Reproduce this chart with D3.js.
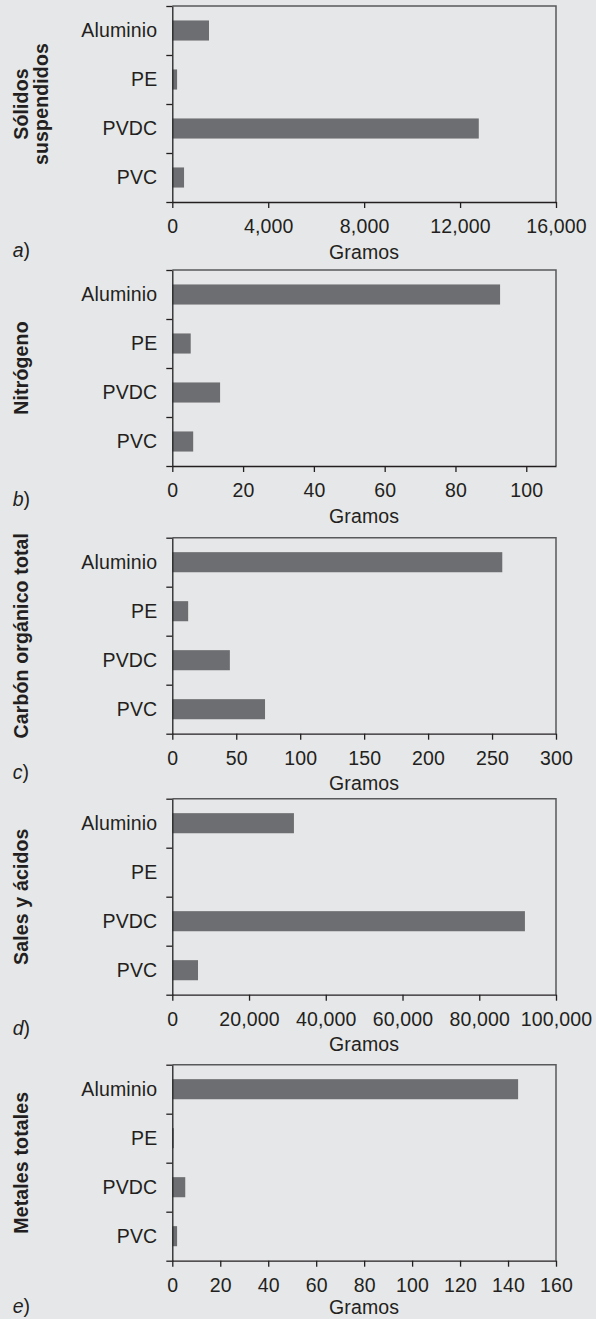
<!DOCTYPE html>
<html>
<head>
<meta charset="utf-8">
<script src="https://cdn.jsdelivr.net/npm/d3@7"></script>
<style>
  html, body { margin: 0; padding: 0; background: #e6e7e8; }
  svg { display: block; }
  text { font-family: "Liberation Sans", Arial, Helvetica, sans-serif; fill: #231f20; }
</style>
</head>
<body>
<svg id="chart" width="596" height="1319"></svg>
<script>
// ---------- data ----------
const categories = ["Aluminio", "PE", "PVDC", "PVC"];
const panelLetters = ["a", "b", "c", "d", "e"];
const panelTitles = [["Sólidos", "suspendidos"], ["Nitrógeno"], ["Carbón orgánico total"], ["Sales y ácidos"], ["Metales totales"]];
const solidosSuspendidos = [1530, 200, 12780, 490];
const nitrogeno = [92.6, 5.2, 13.5, 5.9];
const carbonOrganico = [258, 12.4, 45, 72.5];
const salesAcidos = [31700, 0, 91900, 6700];
const metalesTotales = [144.2, 0.6, 5.4, 2.0];
const axisMax = [16000, 108.4, 300, 100000, 160];
const ticksA = [0, 4000, 8000, 12000, 16000];
const ticksB = [0, 20, 40, 60, 80, 100];
const ticksC = [0, 50, 100, 150, 200, 250, 300];
const ticksD = [0, 20000, 40000, 60000, 80000, 100000];
const ticksE = [0, 20, 40, 60, 80, 100, 120, 140, 160];
const xTitle = "Gramos";

const seriesList = [solidosSuspendidos, nitrogeno, carbonOrganico, salesAcidos, metalesTotales];
const tickList = [ticksA, ticksB, ticksC, ticksD, ticksE];

// ---------- layout ----------
const W = 596, H = 1319;
const plotLeft = 172.3, plotRight = 556, plotH = 196;
const panelTops = [6, 270, 537.7, 798.7, 1064.7];
const letterBaselines = [257, 506, 779, 1035, 1313];
const FS = 19.5;
const barColor = "#6d6e71";
const axisColor = "#231f20";
const borderColor = "#58595b";

const svg = d3.select("#chart");

seriesList.forEach((values, i) => {
  const top = panelTops[i];
  const g = svg.append("g").attr("transform", `translate(0,${top})`);

  const x = d3.scaleLinear().domain([0, axisMax[i]]).range([plotLeft, plotRight]);
  const y = d3.scaleBand().domain(categories).range([0, plotH])
    .paddingInner(0.59).paddingOuter(0.295);
  const yEdge = d3.scaleLinear().domain([0, categories.length]).range([0, plotH]);

  // top & right border
  g.append("path")
    .attr("d", `M${plotLeft},0H${plotRight}V${plotH}`)
    .attr("fill", "none").attr("stroke", borderColor).attr("stroke-width", 1.5);

  // bars
  g.selectAll("rect.bar").data(values).join("rect")
    .attr("class", "bar")
    .attr("x", x(0))
    .attr("y", (d, j) => y(categories[j]))
    .attr("width", d => Math.max(0, x(d) - x(0)))
    .attr("height", y.bandwidth())
    .attr("fill", barColor);

  // left axis line and boundary ticks
  const yTicksAxis = d3.axisLeft(yEdge).tickValues(d3.range(categories.length + 1))
    .tickSizeInner(6).tickSizeOuter(0).tickFormat("");
  const gl = g.append("g").attr("transform", `translate(${plotLeft},0)`).call(yTicksAxis);
  gl.selectAll("path, line").attr("stroke", axisColor).attr("stroke-width", 1.3);

  // category labels
  const yLabelAxis = d3.axisLeft(y).tickSize(0).tickPadding(15);
  const gc = g.append("g").attr("transform", `translate(${plotLeft},0)`).call(yLabelAxis);
  gc.select(".domain").remove();
  gc.selectAll("text").attr("font-size", FS).attr("font-family", null)
    .attr("fill", axisColor).attr("letter-spacing", "0.15px").attr("dy", "0.35em");

  // bottom axis
  const xAxis = d3.axisBottom(x).tickValues(tickList[i])
    .tickSizeInner(6).tickSizeOuter(0).tickPadding(11).tickFormat(d3.format(","));
  const gx = g.append("g").attr("transform", `translate(0,${plotH})`).call(xAxis);
  gx.selectAll("path, line").attr("stroke", axisColor).attr("stroke-width", 1.3);
  gx.selectAll("text").attr("font-size", FS).attr("font-family", null)
    .attr("fill", axisColor).attr("letter-spacing", "0.15px");

  // x title (kept inside the canvas)
  const titleY = Math.min(252.5, H - top - 4.8);
  g.append("text")
    .attr("x", (plotLeft + plotRight) / 2)
    .attr("y", titleY)
    .attr("text-anchor", "middle")
    .attr("font-size", FS)
    .attr("letter-spacing", "0.15px")
    .text(xTitle);

  // y title (rotated, bold)
  const lines = panelTitles[i];
  const baseX = lines.length === 1 ? 28 : 27.7;
  lines.forEach((ln, k) => {
    const bx = baseX + k * 20;
    g.append("text")
      .attr("transform", `translate(${bx},${plotH / 2}) rotate(-90)`)
      .attr("text-anchor", "middle")
      .attr("font-size", FS)
      .attr("font-weight", "bold")
      .attr("letter-spacing", "0.15px")
      .text(ln);
  });

  // panel letter
  const lt = svg.append("text")
    .attr("x", 12.7)
    .attr("y", Math.min(letterBaselines[i], H - 4.8))
    .attr("font-size", FS);
  lt.append("tspan").attr("font-style", "italic").text(panelLetters[i]);
  lt.append("tspan").text(")");
});
</script>
</body>
</html>
